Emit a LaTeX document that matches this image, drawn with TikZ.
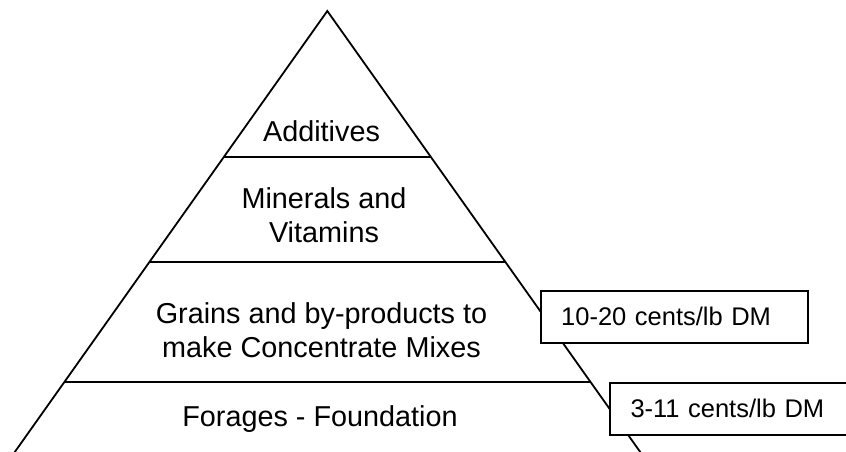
\documentclass[tikz,border=0pt]{standalone}
\usepackage{fontspec}
\setmainfont{Liberation Sans}
\usetikzlibrary{calc}
\begin{document}
\begin{tikzpicture}[x=1pt,y=-1pt,
  edge/.style={line width=1.8pt},
  layer/.style={font=\fontsize{28.8}{34}\selectfont, align=center, inner sep=0pt, anchor=base},
  price/.style={draw, line width=1.8pt, fill=white, font=\fontsize{25.5}{30}\selectfont,
    align=left, inner xsep=20.5pt, inner ysep=0pt, text height=16.3pt, text depth=0pt,
    minimum height=52.3pt}]
\useasboundingbox[fill=white] (0,0) rectangle (846,452);
\coordinate (apex) at (327.3,11);
\coordinate (bl) at (15,451.7);
\coordinate (br) at (640,451.7);
\draw[edge] ($(apex)!1.02!(bl)$) -- (apex) -- ($(apex)!1.02!(br)$);
\draw[edge] ($(apex)!0.332!(bl)$) -- ($(apex)!0.332!(br)$);
\draw[edge] ($(apex)!0.5689!(bl)$) -- ($(apex)!0.5689!(br)$);
\draw[edge] ($(apex)!0.8412!(bl)$) -- ($(apex)!0.8412!(br)$);
\node[layer] (add) at (321.5,141.7) {Additives};
\node[layer] (minvit) at (324,242.7) {Minerals and\\Vitamins};
\node[layer] (grains) at (321.5,357.3) {Grains and by-products to\\make Concentrate Mixes};
\node[layer] (forage) at (320,426.7) {Forages - Foundation};
\node[price, text width=226.6pt] (p1) at (674.5,316.85) {10-20 cents/lb DM};
\node[price, text width=210pt] (p2) at (735.5,408.85) {3-11 cents/lb DM};
\end{tikzpicture}
\end{document}
